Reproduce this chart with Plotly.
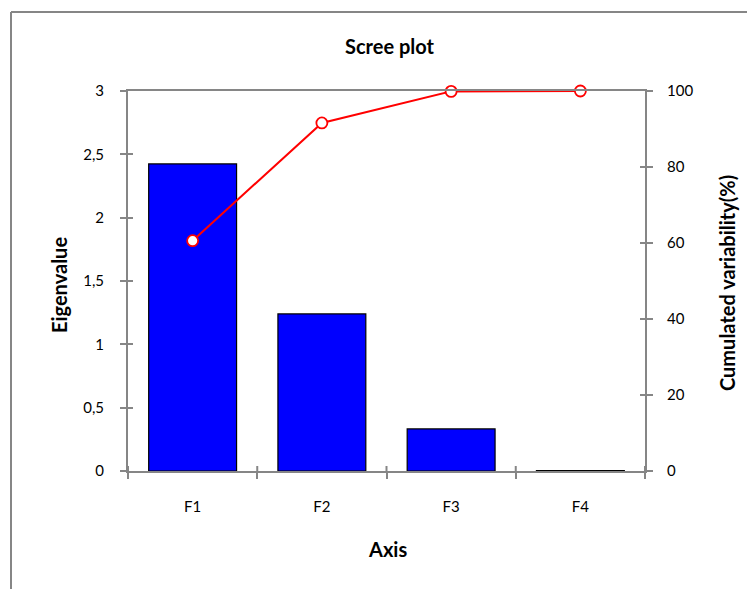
import plotly.graph_objects as go

categories = ["F1", "F2", "F3", "F4"]
eigenvalues = [2.424, 1.240, 0.332, 0.004]
cumulative = [60.6, 91.6, 99.9, 100.0]

OFF = 8  # default page body margin
W, H = 755 - OFF, 589 - OFF
L, R, T, B = 128 - OFF, 645 - OFF, 91 - OFF, 471 - OFF
FONT = "Lato"
GRAY = "#868686"

fig = go.Figure()
fig.add_trace(go.Bar(x=categories, y=eigenvalues, marker=dict(color="#0000FF", line=dict(color="black", width=1.2)),
                     width=0.68, yaxis="y", showlegend=False))
fig.add_trace(go.Scatter(x=categories, y=cumulative, mode="lines+markers", yaxis="y2",
                         line=dict(color="#FF0000", width=2),
                         marker=dict(symbol="circle", size=11, color="white", line=dict(color="#FF0000", width=1.8)),
                         showlegend=False, cliponaxis=False))

axcommon = dict(showgrid=False, zeroline=False, linecolor=GRAY, linewidth=2, tickcolor=GRAY, tickwidth=2,
                tickfont=dict(family=FONT, size=15, color="black"))

fig.update_layout(
    width=W, height=H,
    margin=dict(l=L, r=W - R, t=T, b=H - B, pad=0),
    paper_bgcolor="white", plot_bgcolor="white",
    separators=", ",
    font=dict(family=FONT),
    xaxis=dict(**axcommon, type="category", showline=True, mirror=True, ticks="outside", ticklen=6,
               tickson="boundaries", ticklabelstandoff=21, range=[-0.5, 3.5]),
    yaxis=dict(**axcommon, range=[0, 3], dtick=0.5, showline=True, ticks="outside", ticklen=6,
               ticklabelstandoff=13),
    yaxis2=dict(**axcommon, range=[0, 100], dtick=20, overlaying="y", side="right", showline=True,
                ticks="outside", ticklen=6, ticklabelstandoff=11),
    yaxis3=dict(range=[0, 3], dtick=0.5, overlaying="y", side="left", showline=False, showgrid=False,
                zeroline=False, ticks="inside", ticklen=5, tickcolor=GRAY, tickwidth=2, showticklabels=False),
    yaxis4=dict(range=[0, 100], dtick=20, overlaying="y", side="right", showline=False, showgrid=False,
                zeroline=False, ticks="inside", ticklen=5, tickcolor=GRAY, tickwidth=2, showticklabels=False),
    bargap=0.32,
)
fig.add_trace(go.Scatter(x=categories, y=[None]*4, yaxis="y3", showlegend=False, hoverinfo="skip"))
fig.add_trace(go.Scatter(x=categories, y=[None]*4, yaxis="y4", showlegend=False, hoverinfo="skip"))

pw, ph = R - L, B - T
def px(x):  # page x -> paper
    return (x - OFF - L) / pw
def py(y):  # page y -> paper
    return (B - (y - OFF)) / ph

for i in range(5):
    xp = i / 4
    fig.add_shape(type="line", xref="paper", yref="paper", x0=xp, x1=xp, y0=0, y1=5 / ph,
                  line=dict(color=GRAY, width=2))

fig.add_shape(type="line", xref="paper", yref="paper", x0=px(11), x1=px(770), y0=py(12), y1=py(12),
              line=dict(color=GRAY, width=2))
fig.add_shape(type="line", xref="paper", yref="paper", x0=px(11), x1=px(11), y0=py(12), y1=py(600),
              line=dict(color=GRAY, width=2))

ann = dict(xref="paper", yref="paper", showarrow=False, xanchor="center", yanchor="middle")
fig.add_annotation(text="<b>Scree plot</b>", x=px(390), y=py(46),
                   font=dict(family=FONT, size=20, color="black"), **ann)
fig.add_annotation(text="<b>Eigenvalue</b>", x=px(59), y=py(285), textangle=-90,
                   font=dict(family=FONT, size=20, color="black"), **ann)
fig.add_annotation(text="<b>Cumulated variability(%)</b>", x=px(727), y=py(283), textangle=-90,
                   font=dict(family=FONT, size=20, color="black"), **ann)
fig.add_annotation(text="<b>Axis</b>", x=px(387), y=py(549),
                   font=dict(family=FONT, size=20, color="black"), **ann)

fig.write_html("out.html")
